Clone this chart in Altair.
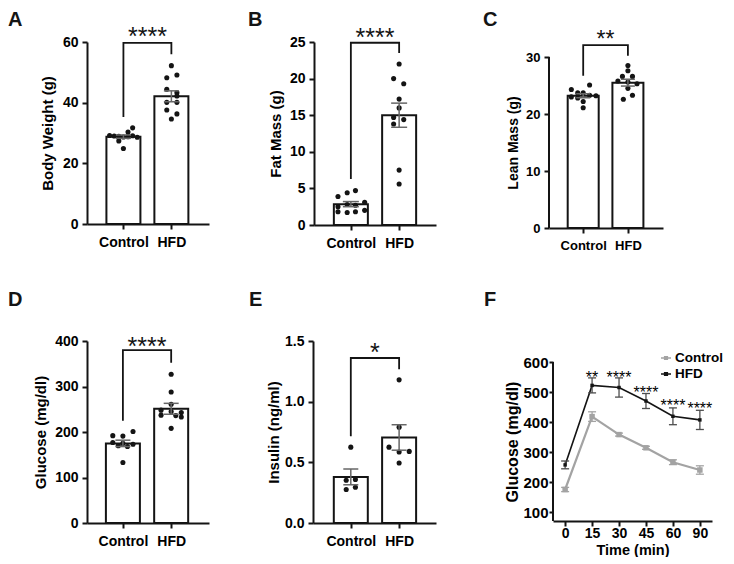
import altair as alt
import pandas as pd

FONT = "Liberation Sans"
GROUPS = ["Control", "HFD"]
INK = "#141414"

# ---------------- data ----------------
# A  Body weight (g)
a_ctrl = [31.7, 30.3, 29.2, 29.0, 28.9, 28.7, 28.8, 29.1, 28.6, 27.4, 24.9]
a_ctrl_jit = [10, 5, -15, -10, -5, 0, 5, 10, 15, -5, 0]
a_hfd = [52.2, 48.2, 49.1, 44.4, 43.3, 42.2, 40.1, 40.1, 37.6, 36.3, 34.6]
a_hfd_jit = [0, -5, 6, -5, 6, 6, -5, 6, -5, 6, 0]
a_mean = [28.8, 42.1]
a_sem = [0.55, 1.8]
a_bracket = [35.3, 59.7, 59.7, 56.0]
a_star_y = 63.7

# B  Fat mass (g)
b_ctrl = [3.9, 4.4, 4.7, 3.1, 2.8, 2.7, 2.5, 2.0, 1.8, 1.7, 1.8]
b_ctrl_jit = [-14, -4, 5, 15, -4, 5, -14, 15, -14, -4, 5]
b_hfd = [22.0, 20.0, 19.3, 17.2, 16.0, 14.7, 14.4, 13.8, 7.5, 5.6]
b_hfd_jit = [0, -6, 5, 0, 0, -6, 5, -6, 0, 0]
b_mean = [2.85, 15.0]
b_sem = [0.35, 1.65]
b_bracket = [6.3, 24.9, 24.9, 23.5]
b_star_y = 26.5

# C  Lean mass (g)
c_ctrl = [24.3, 25.1, 23.7, 23.7, 23.0, 23.3, 23.2, 22.8, 22.2, 21.1]
c_ctrl_jit = [-13, 7, -6, 0, -13, 7, 14, -6, 0, 0]
c_hfd = [28.5, 27.6, 26.6, 26.6, 25.8, 25.6, 25.3, 24.5, 23.3, 22.6]
c_hfd_jit = [0, 0, -6, 5, -11, 0, 10, 0, 5, -5]
c_mean = [23.2, 25.5]
c_sem = [0.35, 0.6]
c_bracket = [26.7, 32.1, 32.1, 30.2]
c_star_y = 34.1
c_axis_span = [0, 30]

# D  Glucose (mg/dl)
d_ctrl = [201, 192, 191, 177, 175, 173, 170, 168, 133]
d_ctrl_jit = [11, -11, 0, -11, 0, 11, -5, 5, 0]
d_hfd = [327, 288, 261, 248, 245, 243, 237, 236, 233, 208]
d_hfd_jit = [0, 0, 0, -11, 0, 11, -11, 5, 11, 0]
d_mean = [175, 251]
d_sem = [7, 12]
d_bracket = [225, 380, 380, 352]
d_star_y = 402

# E  Insulin (ng/ml)
e_ctrl = [0.625, 0.352, 0.358, 0.276, 0.295]
e_ctrl_jit = [0, -5, 5, -5, 5]
e_hfd = [1.18, 0.79, 0.625, 0.585, 0.59, 0.495]
e_hfd_jit = [0, 0, -11, 0, 11, 0]
e_mean = [0.38, 0.705]
e_sem = [0.065, 0.105]
e_bracket = [0.716, 1.36, 1.36, 1.268]
e_star_y = 1.456

# F  Glucose tolerance test
f_times = ["0", "15", "30", "45", "60", "90"]
f_ctrl_mean = [175, 418, 358, 314, 266, 240]
f_ctrl_sem = [7, 16, 5, 5, 8, 14]
f_hfd_mean = [257, 522, 515, 470, 419, 407]
f_hfd_sem = [13, 25, 32, 25, 28, 32]
f_stars = ["", "**", "****", "****", "****", "****"]
f_star_y = [0, 561, 561, 510, 467, 457]
f_axis_span = [70, 600]

LABEL_EXPR = "[" + ",".join("'%s'" % g for g in GROUPS) + "][datum.value]"
ONE = pd.DataFrame({"k": [0]})


def frame_layer(box):
    return alt.Chart(ONE).mark_rect(opacity=0).encode(
        x=alt.value(box[0]), x2=alt.value(box[1]), y=alt.value(box[2]), y2=alt.value(box[3]))


def letter_layer(letter, xy):
    return alt.Chart(ONE).mark_text(
        text=letter, font=FONT, fontSize=20, fontWeight="bold", align="left",
        baseline="alphabetic", color=INK).encode(x=alt.value(xy[0]), y=alt.value(xy[1]))


def axis_line_layer(span, Y):
    d = pd.DataFrame({"a": [span[0]], "b": [span[1]]})
    return alt.Chart(d).mark_rule(color=INK, strokeWidth=2).encode(
        x=alt.value(0), y=Y("a"), y2="b:Q")


def bar_panel(letter, ylabel, ctrl, ctrl_jit, hfd, hfd_jit, mean, sem, bracket, star_text, star_y,
              ydomain, yticks, yfmt, lay, axis_span=None):
    w, h = lay["w"], lay["h"]
    step = lay["step"]
    pts = pd.DataFrame({"g": [0] * len(ctrl) + [1] * len(hfd), "v": ctrl + hfd,
                        "j": ctrl_jit + hfd_jit})
    bars = pd.DataFrame({"g": [0, 1], "m": mean, "s": sem})
    br = pd.DataFrame({"bx": [0, 0, 1, 1], "by": bracket, "o": [0, 1, 2, 3]})
    st = pd.DataFrame({"sx": [0.5], "sy": [star_y], "t": [star_text]})

    xs = alt.Scale(domain=lay["xdomain"], nice=False, zero=False)
    ys = alt.Scale(domain=ydomain, nice=False, zero=False)
    xaxis = alt.Axis(values=[0, 1], labelExpr=LABEL_EXPR, title=None, tickSize=5,
                     labelPadding=lay.get("xpad", 6), labelFontSize=lay["tfs"], labelAngle=0,
                     labelFlush=False, grid=False)
    ykw = dict(values=yticks, title=ylabel, titleX=lay["tx"], titleY=lay.get("ty", h / 2),
               titleAngle=270, titleBaseline="middle", titleAlign="center",
               labelFontSize=lay["tfs"], titleFontSize=lay["ttfs"], labelPadding=4, tickSize=5,
               grid=False)
    if yfmt:
        ykw["format"] = yfmt
    if axis_span is not None:
        ykw["domain"] = False
    yaxis = alt.Axis(**ykw)

    def X(f):
        return alt.X(f, type="quantitative", scale=xs, axis=xaxis)

    def Y(f):
        return alt.Y(f, type="quantitative", scale=ys, axis=yaxis)

    bar = alt.Chart(bars).mark_bar(size=lay["bw"], fill="white", stroke=INK, strokeWidth=2,
                                   orient="vertical").encode(x=X("g"), y=Y("m"))
    dots = alt.Chart(pts).transform_calculate(xp="datum.g + datum.j / %g" % step).mark_circle(
        size=26, color=INK, opacity=1).encode(x=X("xp"), y=Y("v"))
    eb = alt.Chart(bars).transform_calculate(lo="datum.m - datum.s", hi="datum.m + datum.s")
    err = eb.mark_rule(color="#666666", strokeWidth=1.5).encode(x=X("g"), y=Y("lo"), y2="hi:Q")
    cap_lo = eb.mark_tick(orient="horizontal", size=lay["cap"], thickness=1.5,
                          color="#666666", opacity=1).encode(x=X("g"), y=Y("lo"))
    cap_hi = eb.mark_tick(orient="horizontal", size=lay["cap"], thickness=1.5,
                          color="#666666", opacity=1).encode(x=X("g"), y=Y("hi"))
    brk = alt.Chart(br).mark_line(color=INK, strokeWidth=1.8).encode(
        x=X("bx"), y=Y("by"), order="o:Q")
    stars = alt.Chart(st).mark_text(font=FONT, fontSize=lay["sfs"], baseline="alphabetic",
                                    dy=0.585 * lay["sfs"], color=INK).encode(
        x=X("sx"), y=Y("sy"), text="t:N")
    layers = [bar, dots, err, cap_lo, cap_hi, brk, stars]
    if axis_span is not None:
        layers.append(axis_line_layer(axis_span, Y))
    layers += [letter_layer(letter, lay["letter"]), frame_layer(lay["frame"])]
    return alt.layer(*layers).properties(width=w, height=h)


ROW1 = (-34, 228)
ROW2 = (-71, 215)
A = bar_panel("A", "Body Weight (g)", a_ctrl, a_ctrl_jit, a_hfd, a_hfd_jit, a_mean, a_sem,
              a_bracket, "****", a_star_y, [0, 60], [0, 20, 40, 60], None,
              dict(w=122, h=182, step=52, xdomain=[-0.655, 1.68], bw=34, cap=15, tfs=14,
                   ttfs=15, sfs=25, tx=-40, letter=(-79, -16), frame=(-79, 153) + ROW1))
B = bar_panel("B", "Fat Mass (g)", b_ctrl, b_ctrl_jit, b_hfd, b_hfd_jit, b_mean, b_sem,
              b_bracket, "****", b_star_y, [0, 25], [0, 5, 10, 15, 20, 25], None,
              dict(w=122, h=183, step=52.5, xdomain=[-0.66, 1.66], bw=34, cap=16, tfs=14,
                   ttfs=15, sfs=25, tx=-39, letter=(-66, -16), frame=(-74, 164) + ROW1))
# C's plot area starts 15 px higher than its axis top (axis ends at 30)
C = bar_panel("C", "Lean Mass (g)", c_ctrl, c_ctrl_jit, c_hfd, c_hfd_jit, c_mean, c_sem,
              c_bracket, "**", c_star_y, [0, 30 * 186 / 171], [0, 10, 20, 30], None,
              dict(w=114, h=186, step=49, xdomain=[-0.653, 1.673], bw=31, cap=14, tfs=13,
                   ttfs=14, sfs=23, tx=-36, ty=100.5, letter=(-66, -16),
                   frame=(-71, 177) + ROW1), axis_span=c_axis_span)
D = bar_panel("D", "Glucose (mg/dl)", d_ctrl, d_ctrl_jit, d_hfd, d_hfd_jit, d_mean, d_sem,
              d_bracket, "****", d_star_y, [0, 400], [0, 100, 200, 300, 400], None,
              dict(w=122, h=182, step=52.5, xdomain=[-0.64, 1.68], bw=34, cap=15, tfs=14,
                   ttfs=15, sfs=25, tx=-47, letter=(-79, -35), frame=(-79, 153) + ROW2))
E = bar_panel("E", "Insulin (ng/ml)", e_ctrl, e_ctrl_jit, e_hfd, e_hfd_jit, e_mean, e_sem,
              e_bracket, "*", e_star_y, [0, 1.5], [0, 0.5, 1.0, 1.5], ".1f",
              dict(w=123, h=182, step=52.5, xdomain=[-0.679, 1.66], bw=34, cap=15, tfs=14,
                   ttfs=15, sfs=25, tx=-40, letter=(-64, -35), frame=(-73, 165) + ROW2))

# ---------------- panel F ----------------
GRAY = "#a3a3a3"
rows = []
for i, t in enumerate(f_times):
    rows.append({"t": t, "i": i, "grp": GROUPS[0], "m": f_ctrl_mean[i], "s": f_ctrl_sem[i]})
    rows.append({"t": t, "i": i, "grp": GROUPS[1], "m": f_hfd_mean[i], "s": f_hfd_sem[i]})
fdf = pd.DataFrame(rows)
sdf = pd.DataFrame({"t": f_times, "sy": f_star_y, "txt": f_stars})
sdf = sdf[sdf["txt"] != ""].reset_index(drop=True)

# plot area starts 21 px above the 600 tick (axis spans 70..600)
FW, FH = 159, 180
fxs = alt.Scale(type="point", domain=f_times, padding=0.45)
fys = alt.Scale(domain=[70, 670], nice=False, zero=False)
fxaxis = alt.Axis(labelAngle=0, title="Time (min)", titleX=FW / 2, titleY=29.5,
                  titleBaseline="middle", titleAlign="center", titleFontSize=14.5,
                  labelFontSize=14, tickSize=5, labelPadding=0, grid=False)
fyaxis = alt.Axis(values=[100, 200, 300, 400, 500, 600], title="Glucose (mg/dl)", titleX=-41,
                  titleY=100.5, titleAngle=270, titleBaseline="middle", titleAlign="center",
                  titleFontSize=16, labelFontSize=15, tickSize=4, labelPadding=1, grid=False,
                  domain=False)


def FX():
    return alt.X("t:O", scale=fxs, axis=fxaxis, sort=f_times)


def FY(f):
    return alt.Y(f, type="quantitative", scale=fys, axis=fyaxis)


fbase = alt.Chart(fdf)


def f_group(grp, color, err_color, width, msize):
    b = fbase.transform_filter("datum.grp == '%s'" % grp)
    line = b.mark_line(color=color, strokeWidth=width).encode(x=FX(), y=FY("m"), order="i:Q")
    e = b.transform_calculate(lo="datum.m - datum.s", hi="datum.m + datum.s")
    r = e.mark_rule(color=err_color, strokeWidth=1.3).encode(x=FX(), y=FY("lo"), y2="hi:Q")
    c1 = e.mark_tick(orient="horizontal", size=8, thickness=1.3, color=err_color,
                     opacity=1).encode(x=FX(), y=FY("lo"))
    c2 = e.mark_tick(orient="horizontal", size=8, thickness=1.3, color=err_color,
                     opacity=1).encode(x=FX(), y=FY("hi"))
    pts = b.mark_point(filled=True, shape="square", size=msize, color=color,
                       opacity=1).encode(x=FX(), y=FY("m"))
    return [line, r, c1, c2, pts]


LEG_SYMBOL = "M-1,-0.13H1V0.13H-1Z M-0.42,-0.42H0.42V0.42H-0.42Z"


def legend_entry(label, color, y):
    d = pd.DataFrame({"lab": [label]})
    sym = alt.Chart(d).mark_point(shape=LEG_SYMBOL, size=100, filled=True, color=color,
                                  opacity=1, strokeWidth=0).encode(
        x=alt.value(113), y=alt.value(y))
    txt = alt.Chart(d).mark_text(font=FONT, fontSize=13.5, fontWeight="bold", align="left",
                                 baseline="middle", color="black").encode(
        x=alt.value(122), y=alt.value(y), text="lab:N")
    return [sym, txt]


fstars = alt.Chart(sdf).mark_text(font=FONT, fontSize=16, baseline="alphabetic",
                                  dy=0.585 * 16, color="black").encode(
    x=FX(), y=FY("sy"), text="txt:N")

F = alt.layer(*f_group(GROUPS[0], GRAY, GRAY, 2.2, 30),
              *f_group(GROUPS[1], INK, "#4d4d4d", 1.6, 12),
              axis_line_layer(f_axis_span, FY),
              fstars,
              *legend_entry(GROUPS[0], GRAY, 17), *legend_entry(GROUPS[1], INK, 33),
              letter_layer("F", (-69, -35)), frame_layer((-75, 173) + ROW2)
              ).properties(width=FW, height=FH)

row1 = alt.hconcat(A, B, C, spacing=0)
row2 = alt.hconcat(D, E, F, spacing=0)
chart = alt.vconcat(row1, row2, spacing=0).properties(
    padding=0, background="white"
).configure_view(strokeWidth=0).configure_axis(
    domainColor=INK, domainWidth=2, tickColor=INK, tickWidth=2, labelColor="black",
    titleColor="black", labelFont=FONT, titleFont=FONT, labelFontWeight="bold",
    titleFontWeight="bold")

chart.save("out.html", embed_options={"renderer": "svg", "actions": False})
